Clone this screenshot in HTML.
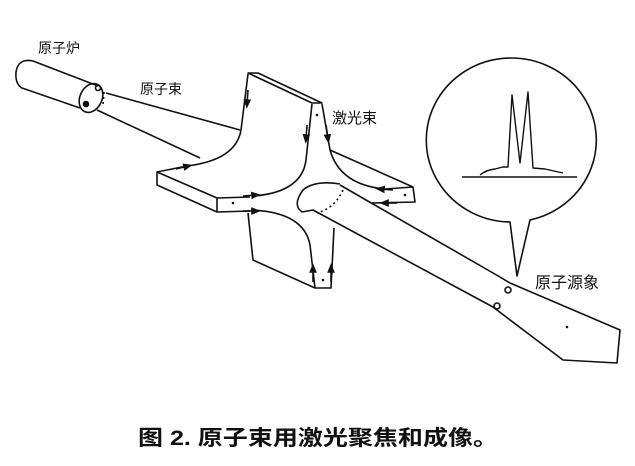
<!DOCTYPE html>
<html><head><meta charset="utf-8"><style>
html,body{margin:0;padding:0;background:#fff;}
svg{display:block;}
text{font-family:"Liberation Sans","Noto Sans CJK SC",sans-serif;fill:#111;}
</style></head><body>
<svg width="635" height="466" viewBox="0 0 635 466" xmlns="http://www.w3.org/2000/svg">
<defs>
<marker id="a" viewBox="0 0 10 10" refX="5" refY="5" markerWidth="6" markerHeight="6" orient="auto"><path d="M0,1 L10,5 L0,9 z" fill="#111"/></marker>
</defs>
<g fill="none" stroke="#111" stroke-width="1.6" stroke-linejoin="round">
<!-- furnace cylinder -->
<path d="M98,86 L33,61 Q18,58 16,72 Q15,84 22,88 L80,108"/>
<ellipse cx="91" cy="98" rx="11" ry="15" transform="rotate(25 91 98)"/>
<circle cx="98" cy="88" r="2.5"/><circle cx="86" cy="104" r="2.5" fill="#111"/>
<path d="M104,92 L103,106" stroke-dasharray="2,3"/>
<!-- atomic beam -->
<path d="M106,93 L240,130"/>
<path d="M97,110 L200,158"/>
<!-- vertical upper plate -->
<path d="M248,73 L312,103 L322,103 L258,73 Z"/>
<path d="M248,74 L241,130 Q236,160 187,166 L157,172 L157,185 L217,212 L250,211"/>
<path d="M157,172 L217,198 L250,197"/>
<path d="M217,198 L217,212"/>
<path d="M312,104 L306,160 Q302,192 254,196"/>
<path d="M322,104 L330,150 Q340,185 385,189 L413,187 L415,202 L372,203"/>
<path d="M330,150 L413,187"/>
<!-- lower plate -->
<path d="M251,210 Q304,212 310,245 L315,288 L331,288 L334,228"/>
<path d="M248,213 L253,260 L315,288"/>
<!-- outgoing beam -->
<path d="M340,184 Q315,180 303,190 Q292,205 302,212 L313,210 L493,307 L563,360 L617,363 L620,330 L510,283 L500,277 L340,185"/>
<path d="M343,190 Q335,208 317,213" stroke-dasharray="2,3"/>
<circle cx="508" cy="290" r="3"/><circle cx="497" cy="306" r="3"/>
<!-- arrows -->
<path d="M248,90 L247,104" marker-end="url(#a)"/>
<path d="M307,125 L306,139" marker-end="url(#a)"/>
<path d="M326,125 L328,139" marker-end="url(#a)"/>
<path d="M176,169 L188,166" marker-end="url(#a)"/>
<path d="M243,196 L256,195" marker-end="url(#a)"/>
<path d="M243,211 L256,211" marker-end="url(#a)"/>
<path d="M393,190 L380,189" marker-end="url(#a)"/>
<path d="M397,203 L384,203" marker-end="url(#a)"/>
<path d="M313,282 L313,268" marker-end="url(#a)"/>
<path d="M331,282 L331,268" marker-end="url(#a)"/>
<!-- bubble -->
<path d="M510,222 A85,82 0 1 1 530,220 L517,276 Z" fill="#fff"/>
<path d="M462,177 L577,177" stroke-width="1.4"/>
<path d="M480,175 Q486,170 495,169 L503,167 L508,167 L512,95 L520,163 L528,92 L533,168 L545,169 L563,173" stroke-width="1.4"/>
</g>
<g fill="#111">
<circle cx="233" cy="203" r="1.3"/><circle cx="317" cy="115" r="1.3"/><circle cx="405" cy="195" r="1.3"/>
<circle cx="323" cy="280" r="1.3"/><circle cx="567" cy="327" r="1.3"/>
</g>
<text x="38" y="53" font-size="14">原子炉</text>
<text x="140" y="94" font-size="14">原子束</text>
<text x="332" y="123" font-size="15">激光束</text>
<text x="535" y="288" font-size="16">原子源象</text>
<text x="138" y="445" font-size="21" font-weight="bold" textLength="360" lengthAdjust="spacingAndGlyphs">图 2. 原子束用激光聚焦和成像。</text>
</svg>
</body></html>
